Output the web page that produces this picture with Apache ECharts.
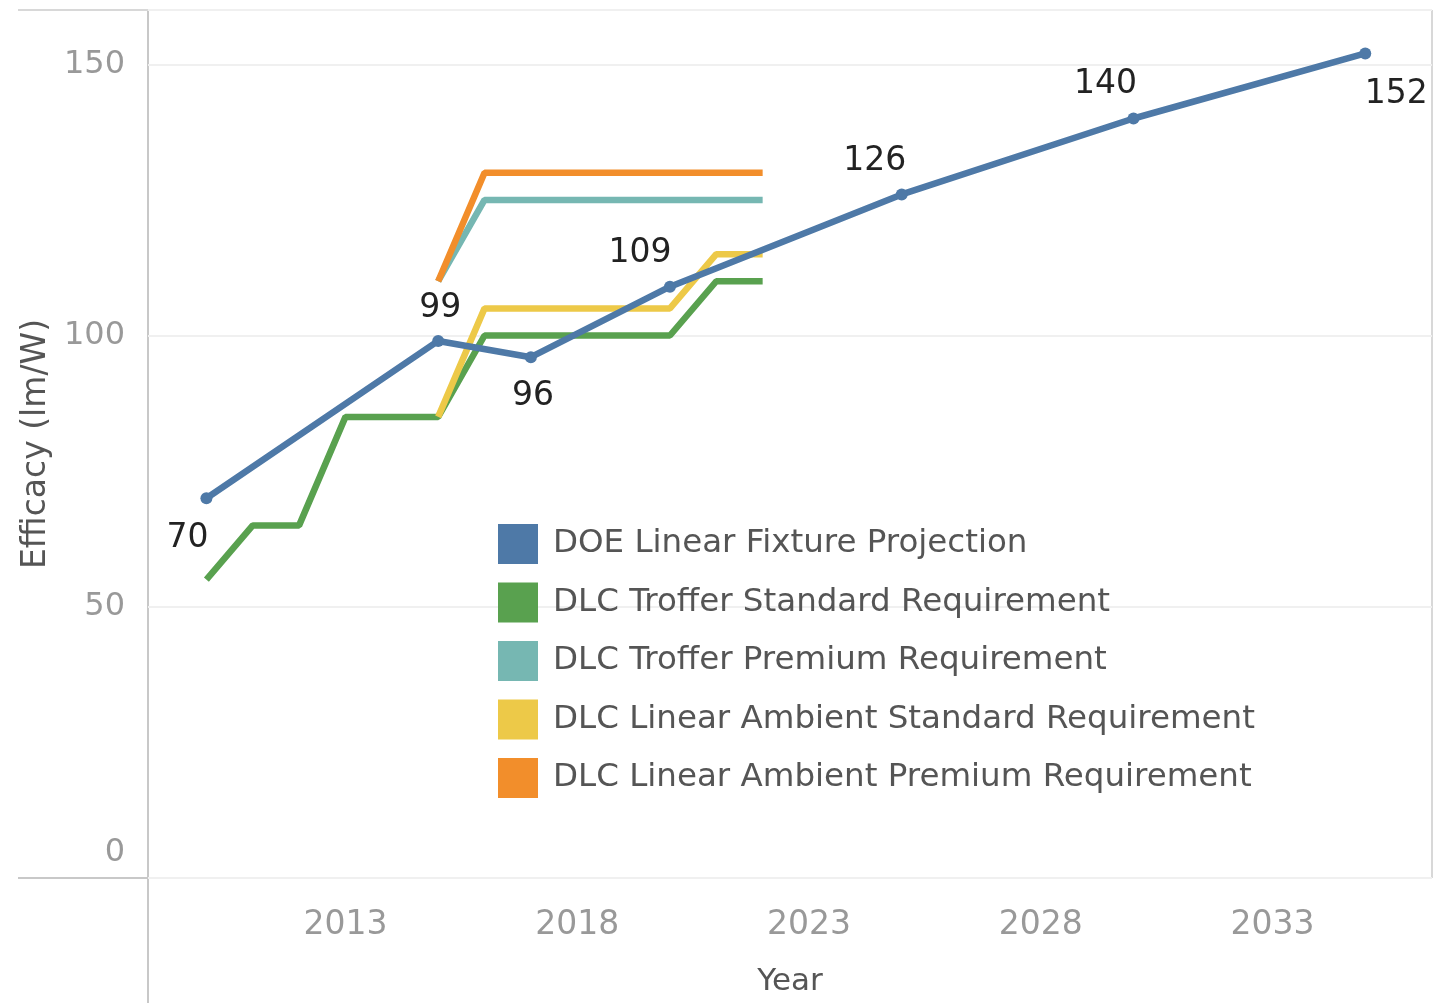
<!DOCTYPE html>
<html>
<head>
<meta charset="utf-8">
<script src="https://cdn.jsdelivr.net/npm/echarts@6/dist/echarts.min.js"></script>
<style>
  html, body { margin: 0; padding: 0; background: #fff; }
  #chart { width: 1450px; height: 1003px; }
</style>
</head>
<body>
<div id="chart"></div>
<script>
// series names (legend order)
const seriesNames = [
  'DOE Linear Fixture Projection',
  'DLC Troffer Standard Requirement',
  'DLC Troffer Premium Requirement',
  'DLC Linear Ambient Standard Requirement',
  'DLC Linear Ambient Premium Requirement'
];
const seriesColors = ['#4e79a7', '#59a14f', '#76b7b2', '#edc948', '#f28e2b'];

// DOE projection (labelled points)
const doeYears = [2010, 2015, 2017, 2020, 2025, 2030, 2035];
const doeValues = [70, 99, 96, 109, 126, 140, 152];

// DLC troffer standard
const trofferStdYears = [2010, 2011, 2012, 2013, 2014, 2015, 2016, 2017, 2018, 2019, 2020, 2021, 2022];
const trofferStdValues = [55, 65, 65, 85, 85, 85, 100, 100, 100, 100, 100, 110, 110];

// DLC troffer premium
const trofferPremYears = [2015, 2016, 2017, 2018, 2019, 2020, 2021, 2022];
const trofferPremValues = [110, 125, 125, 125, 125, 125, 125, 125];

// DLC linear ambient standard
const ambientStdYears = [2015, 2016, 2017, 2018, 2019, 2020, 2021, 2022];
const ambientStdValues = [85, 105, 105, 105, 105, 105, 115, 115];

// DLC linear ambient premium
const ambientPremYears = [2015, 2016, 2017, 2018, 2019, 2020, 2021, 2022];
const ambientPremValues = [110, 130, 130, 130, 130, 130, 130, 130];

// axis ticks
const xTicks = [2013, 2018, 2023, 2028, 2033];
const yTicks = [0, 50, 100, 150];

const FONT = 'DejaVu Sans';

function pairs(xs, ys) {
  return xs.map((x, i) => [x, ys[i]]);
}

// label placement for DOE points (above / below, like the original)
const doeLabelPos = {
  2010: { position: 'bottom', offset: [-19, 13] },
  2015: { position: 'top', offset: [2, -5] },
  2017: { position: 'bottom', offset: [2, 12] },
  2020: { position: 'top', offset: [-30, -6] },
  2025: { position: 'top', offset: [-27, -6] },
  2030: { position: 'top', offset: [-28, -7] },
  2035: { position: 'bottom', offset: [31, 14] }
};

const doeData = doeYears.map((y, i) => ({
  value: [y, doeValues[i]],
  label: Object.assign({ show: true }, doeLabelPos[y])
}));

const chart = echarts.init(document.getElementById('chart'));

const stepSeries = [
  [trofferStdYears, trofferStdValues],
  [trofferPremYears, trofferPremValues],
  [ambientStdYears, ambientStdValues],
  [ambientPremYears, ambientPremValues]
].map((d, i) => ({
  name: seriesNames[i + 1],
  type: 'line',
  data: pairs(d[0], d[1]),
  symbol: 'none',
  z: 2,
  lineStyle: { width: 6.5, color: seriesColors[i + 1] },
  itemStyle: { color: seriesColors[i + 1] }
}));

chart.setOption({
  animation: false,
  textStyle: { fontFamily: FONT },
  grid: { left: 148, right: 18, top: 10, bottom: 125, outerBoundsMode: 'none' },
  legend: {
    orient: 'vertical',
    left: 493,
    top: 519,
    icon: 'rect',
    itemWidth: 40,
    itemHeight: 40,
    itemGap: 18.5,
    data: seriesNames,
    textStyle: { fontSize: 32.5, color: '#555', fontFamily: FONT, padding: [0, 0, 0, 10] }
  },
  xAxis: {
    type: 'value',
    min: 2008.74,
    max: 2036.44,
    name: 'Year',
    nameLocation: 'middle',
    nameGap: 88,
    nameTextStyle: { fontSize: 31, color: '#555' },
    axisLine: { show: false },
    axisTick: { show: false },
    splitLine: { show: false },
    axisLabel: {
      customValues: xTicks,
      formatter: v => String(v),
      fontSize: 33,
      color: '#999',
      margin: 31
    }
  },
  yAxis: {
    type: 'value',
    min: 0,
    max: 160,
    interval: 50,
    name: 'Efficacy (lm/W)',
    nameLocation: 'middle',
    nameGap: 89,
    nameTextStyle: { fontSize: 33, color: '#555' },
    axisLine: { show: false },
    axisTick: { show: false },
    splitLine: { lineStyle: { color: '#f0f0f0', width: 2 } },
    axisLabel: {
      customValues: yTicks,
      fontSize: 32,
      color: '#999',
      margin: 23,
      formatter: v => (v === 0 ? '{z|0}' : String(v)),
      rich: { z: { fontSize: 32, color: '#999', padding: [0, 0, 50, 0] } }
    }
  },
  graphic: [
    { type: 'line', shape: { x1: 18, y1: 878, x2: 1432, y2: 878 }, style: { stroke: '#c8c8c8', lineWidth: 2 }, z: 0 },
    { type: 'line', shape: { x1: 148, y1: 10, x2: 148, y2: 1003 }, style: { stroke: '#c8c8c8', lineWidth: 2 }, z: 0 },
    { type: 'line', shape: { x1: 18, y1: 10, x2: 1432, y2: 10 }, style: { stroke: '#d8d8d8', lineWidth: 2 }, z: 0 },
    { type: 'line', shape: { x1: 1432, y1: 10, x2: 1432, y2: 878 }, style: { stroke: '#d8d8d8', lineWidth: 2 }, z: 0 }
  ],
  series: stepSeries.concat([{
    name: seriesNames[0],
    type: 'line',
    data: doeData,
    symbol: 'circle',
    symbolSize: 12,
    z: 5,
    lineStyle: { width: 6.5, color: seriesColors[0] },
    itemStyle: { color: seriesColors[0] },
    label: { fontSize: 33, color: '#222', fontFamily: FONT }
  }])
});
</script>
</body>
</html>
